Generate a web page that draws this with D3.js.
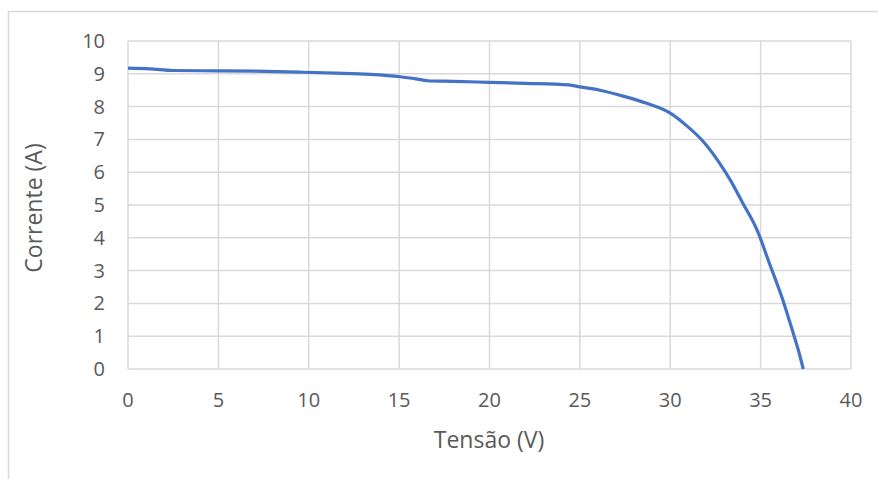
<!DOCTYPE html>
<html><head><meta charset="utf-8">
<script src="https://cdn.jsdelivr.net/npm/d3@7"></script>
<style>body{margin:0;background:#fff;} svg{display:block;}</style>
</head><body>
<svg id="c" width="878" height="479"></svg>
<script>
const xTicks = [0,5,10,15,20,25,30,35,40];
const yTicks = [0,1,2,3,4,5,6,7,8,9,10];
const voltage = [0,1.2,2.5,4.9,7,9.5,11.5,13.4,15.05,16.0,16.7,18,20,22,24.4,25,26.1,27.4,28.7,30.0,30.9,31.8,32.7,33.3,34.0,34.8,35.5,36.2,36.8,37.1,37.36];
const current = [9.17,9.15,9.10,9.09,9.08,9.05,9.02,8.98,8.91,8.84,8.78,8.77,8.74,8.71,8.66,8.60,8.50,8.32,8.10,7.80,7.42,6.95,6.30,5.78,5.07,4.24,3.20,2.15,1.10,0.55,0.0];
const xTitle = "Tensão (V)";
const yTitle = "Corrente (A)";

const svg = d3.select("#c");
const font = "'Open Sans', 'Noto Sans', sans-serif";
const x = d3.scaleLinear().domain([0,40]).range([128,851]);
const y = d3.scaleLinear().domain([0,10]).range([369,41]);

// outer frame
svg.append("path").attr("d","M8.5,479 L8.5,11.5 L878,11.5").attr("fill","none").attr("stroke","#d9d9d9").attr("stroke-width",1.5);

// grid
svg.append("g").selectAll("line").data(yTicks).join("line")
  .attr("x1",x(0)).attr("x2",x(40)).attr("y1",d=>y(d)).attr("y2",d=>y(d))
  .attr("stroke","#d9d9d9").attr("stroke-width",1.5);
svg.append("g").selectAll("line").data(xTicks).join("line")
  .attr("y1",y(0)).attr("y2",y(10)).attr("x1",d=>x(d)).attr("x2",d=>x(d))
  .attr("stroke","#d9d9d9").attr("stroke-width",1.5);

// tick labels
svg.append("g").selectAll("text").data(yTicks).join("text")
  .attr("x",105).attr("y",d=>y(d)).attr("dy","0.35em").attr("text-anchor","end")
  .attr("font-family",font).attr("font-size",20).attr("fill","#595959").text(d=>d);
svg.append("g").selectAll("text").data(xTicks).join("text")
  .attr("x",d=>x(d)).attr("y",400).attr("dy","0.35em").attr("text-anchor","middle")
  .attr("font-family",font).attr("font-size",20).attr("fill","#595959").text(d=>d);

// titles
svg.append("text").attr("x",489).attr("y",440).attr("dy","0.35em").attr("text-anchor","middle")
  .attr("font-family",font).attr("font-size",23).attr("fill","#595959").text(xTitle);
svg.append("text").attr("transform","translate(34,208) rotate(-90)").attr("dy","0.35em").attr("text-anchor","middle")
  .attr("font-family",font).attr("font-size",23).attr("fill","#595959").text(yTitle);

// curve
const pts = voltage.map((v,i)=>[v,current[i]]);
svg.append("path").datum(pts)
  .attr("d", d3.line().x(d=>x(d[0])).y(d=>y(d[1])).curve(d3.curveMonotoneX))
  .attr("fill","none").attr("stroke","#4472C4").attr("stroke-width",3.2).attr("stroke-linejoin","round");
</script>
</body></html>
